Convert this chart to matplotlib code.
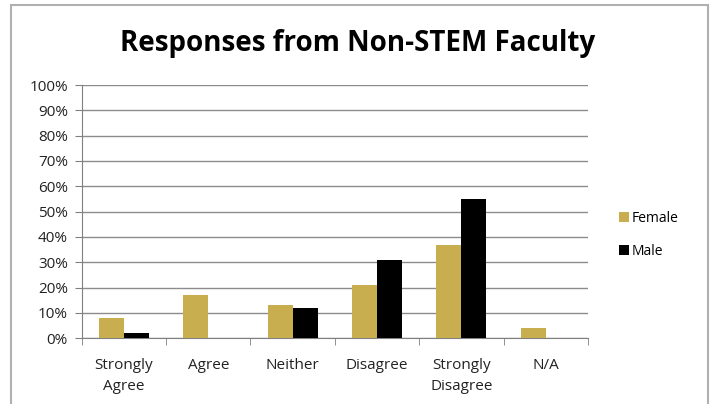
import numpy as np
import matplotlib
matplotlib.use('Agg')
import matplotlib.pyplot as plt
from matplotlib.patches import Rectangle

categories = ['Strongly\nAgree', 'Agree', 'Neither', 'Disagree', 'Strongly\nDisagree', 'N/A']
female = [8, 17, 13, 21, 37, 4]
male = [2, 0, 12, 31, 55, 0]
yticks = np.arange(0, 101, 10)

plt.rcParams['font.family'] = ['Open Sans', 'DejaVu Sans']

W, H = 713, 404
fig = plt.figure(figsize=(W / 100, H / 100), dpi=100)
ax = fig.add_axes([81.7 / W, 1 - 338.3 / H, (588 - 81.7) / W, (338.3 - 85) / H])

# outer border of the chart area
fig.patches.append(Rectangle((11 / W, -0.05), (708 - 11) / W, 1.05 - 5 / H,
                             transform=fig.transFigure, fill=False,
                             edgecolor='#b0b0b0', lw=1.5))

gold = '#c8ae4f'
x = np.arange(len(categories))
bw = 0.296
ax.bar(x - bw / 2, female, bw, color=gold, label='Female', zorder=3)
ax.bar(x + bw / 2, male, bw, color='black', label='Male', zorder=3)

ax.set_xlim(-0.5, len(categories) - 0.5)
ax.set_ylim(0, 100)
ax.set_yticks(yticks)
ax.set_yticklabels(['%d%%' % v for v in yticks], fontsize=11, color='#222222')
ax.set_xticks(x)
ax.set_xticklabels(categories, fontsize=11, color='#222222', linespacing=1.55)
ax.set_xticks(np.arange(-0.5, len(categories)), minor=True)
ax.tick_params(axis='x', which='major', length=0, pad=14)
ax.tick_params(axis='x', which='minor', length=5, color='#808080', direction='out')
ax.tick_params(axis='y', length=5, color='#808080', pad=5)

ax.grid(axis='y', color='#8c8c8c', lw=1, zorder=0)
for s in ['top', 'right']:
    ax.spines[s].set_visible(False)
for s in ['left', 'bottom']:
    ax.spines[s].set_color('#808080')

fig.text(358 / W, 1 - 44 / H, 'Responses from Non-STEM Faculty', ha='center', va='center',
         fontsize=20, fontweight='bold', color='black')

fig.legend(loc='center left', bbox_to_anchor=(606 / W, 1 - 235 / H), frameon=False,
           handlelength=0.75, handleheight=0.75, handletextpad=0.2,
           labelspacing=1.3, prop={'size': 10})

fig.savefig('out.png', dpi=100)
